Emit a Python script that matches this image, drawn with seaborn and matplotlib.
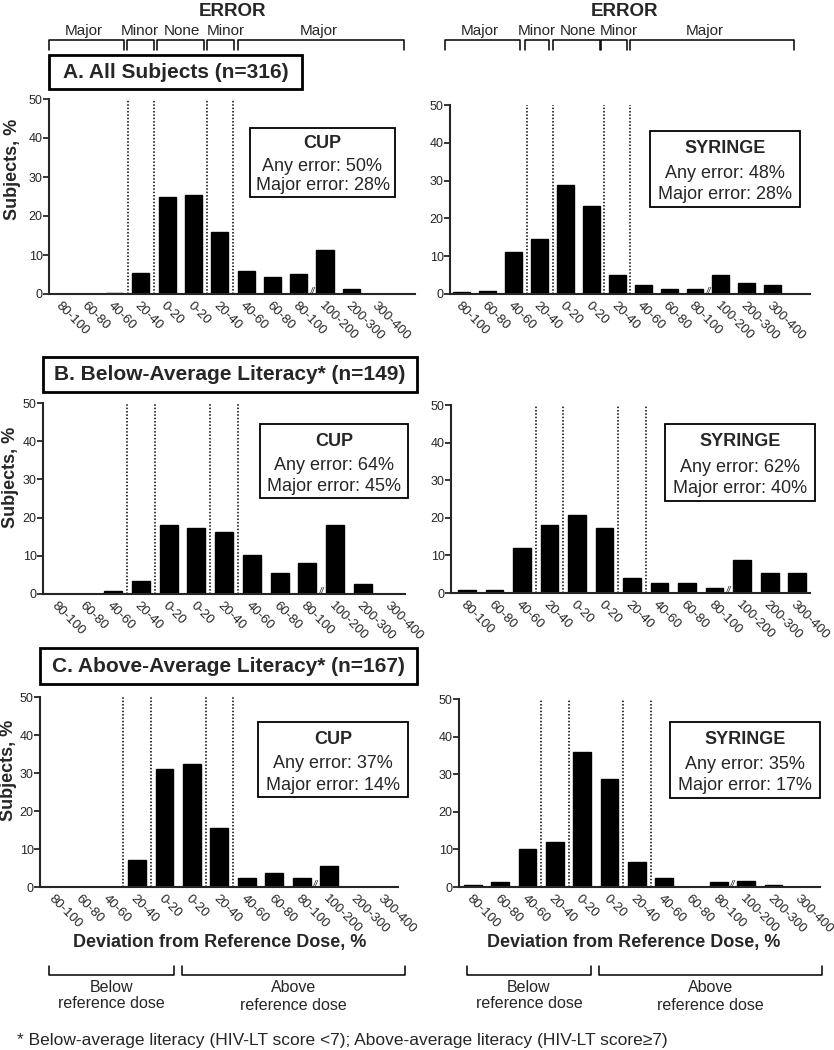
import matplotlib
matplotlib.use("Agg")
import matplotlib.pyplot as plt
import pandas as pd
import seaborn as sns
from matplotlib.lines import Line2D
from matplotlib.patches import Rectangle

# dose deviation bins, below reference dose first then above
bins = ["80-100", "60-80", "40-60", "20-40", "0-20", "0-20", "20-40",
        "40-60", "60-80", "80-100", "100-200", "200-300", "300-400"]

# % of subjects per bin
cup_all = [0, 0, 0.3, 5.4, 25.0, 25.3, 15.8, 6.0, 4.4, 5.1, 11.4, 1.3, 0]
syr_all = [0.6, 0.9, 11.1, 14.6, 28.8, 23.4, 5.1, 2.5, 1.3, 1.3, 5.1, 2.8, 2.5]
cup_low = [0, 0, 0.7, 3.4, 18.1, 17.4, 16.1, 10.1, 5.4, 8.1, 18.1, 2.7, 0]
syr_low = [0.7, 0.7, 12.1, 18.1, 20.8, 17.4, 4.0, 2.7, 2.7, 1.3, 8.7, 5.4, 5.4]
cup_high = [0, 0, 0, 7.2, 31.1, 32.3, 15.6, 2.4, 3.6, 2.4, 5.4, 0, 0]
syr_high = [0.6, 1.2, 10.2, 12.0, 35.9, 28.7, 6.6, 2.4, 0, 1.2, 1.5, 0.6, 0]

devices = ["CUP", "SYRINGE"]
any_error = [[50, 48], [64, 62], [37, 35]]
major_error = [[28, 28], [45, 40], [14, 17]]
panel_titles = ["A. All Subjects (n=316)",
                "B. Below-Average Literacy* (n=149)",
                "C. Above-Average Literacy* (n=167)"]
error_groups = ["Major", "Minor", "None", "Minor", "Major"]
footnote = "* Below-average literacy (HIV-LT score <7); Above-average literacy (HIV-LT score\u22657)"

W, H = 834, 1050


def fx(x):
    return x / W


def fy(y):
    return 1 - y / H


def bracket(fig, x0, x1, y, tip, lw=1.1):
    # horizontal line at y with end ticks going to tip
    fig.add_artist(Line2D([fx(x0), fx(x0), fx(x1), fx(x1)],
                          [fy(tip), fy(y), fy(y), fy(tip)], color="black", lw=lw,
                          transform=fig.transFigure))


def box_fig(fig, x0, y0, x1, y1, lw=1.3):
    fig.add_artist(Rectangle((fx(x0), fy(y1)), fx(x1 - x0), (y1 - y0) / H,
                             fill=False, ec="black", lw=lw, transform=fig.transFigure))


sns.set_style("ticks")
plt.rcParams["font.family"] = ["Liberation Sans", "DejaVu Sans"]

fig = plt.figure(figsize=(W / 100, H / 100), dpi=100)

# axes pixel boxes: x0, x1, ytop(50%), ybottom(0%), xlim
axes_px = [
    [(49, 415, 99, 294, -0.49, 13.42), (450, 810, 105, 294, -0.46, 13.44)],
    [(43, 405, 403, 594, -0.54, 12.53), (451, 810, 405, 593, -0.58, 12.47)],
    [(40, 398, 697, 887, -0.53, 12.5), (459, 820, 699, 887, -0.51, 12.7)],
]
stat_boxes = [
    [(250, 128, 395, 197), (650, 131, 800, 207)],
    [(260, 424, 408, 498), (665, 424, 815, 501)],
    [(258, 722, 408, 797), (670, 722, 820, 798)],
]
data = [[cup_all, syr_all], [cup_low, syr_low], [cup_high, syr_high]]

for r in range(3):
    for c in range(2):
        x0, x1, yt, yb, lo, hi = axes_px[r][c]
        ax = fig.add_axes([fx(x0), fy(yb), fx(x1 - x0), (yb - yt) / H])
        df = pd.DataFrame({"pos": range(len(bins)), "pct": data[r][c]})
        sns.barplot(data=df, x="pos", y="pct", ax=ax, color="black", width=0.65,
                    edgecolor="black", linewidth=1, saturation=1, errorbar=None)
        ax.set_xlim(lo, hi)
        ax.set_ylim(0, 50)
        ax.set_yticks(range(0, 51, 10))
        ax.set_xticks(range(len(bins)))
        ax.set_xticklabels(bins, rotation=-45, ha="left", va="top",
                           rotation_mode="anchor", fontsize=9.5)
        ax.tick_params(axis="x", length=0, pad=4)
        ax.tick_params(axis="y", length=4, width=1.3, pad=0.5, labelsize=9)
        ax.set_xlabel("")
        ax.set_ylabel("")
        for s in ["top", "right"]:
            ax.spines[s].set_visible(False)
        for s in ["left", "bottom"]:
            ax.spines[s].set_linewidth(1.5)
        for xv in [2.5, 3.5, 5.5, 6.5]:
            ax.axvline(xv, color="black", ls=(0, (1, 1.2)), lw=1.1)
        ax.text(9.5, 0.6, "//", ha="center", va="center", fontsize=7, style="italic")

        bx0, by0, bx1, by1 = stat_boxes[r][c]
        box_fig(fig, bx0, by0, bx1, by1)
        cx = (bx0 + bx1) / 2
        bh = by1 - by0
        fig.text(fx(cx), fy(by0 + 0.23 * bh), devices[c], ha="center", va="center",
                 fontsize=13, fontweight="bold")
        fig.text(fx(cx), fy(by0 + 0.56 * bh), f"Any error: {any_error[r][c]}%",
                 ha="center", va="center", fontsize=13)
        fig.text(fx(cx), fy(by0 + 0.84 * bh), f"Major error: {major_error[r][c]}%",
                 ha="center", va="center", fontsize=13)

# y labels
for yc, xc in zip([169, 477, 770], [13, 11, 9]):
    fig.text(fx(xc), fy(yc), "Subjects, %", rotation=90, ha="center", va="center",
             fontsize=13, fontweight="bold")

# panel titles
title_boxes = [(49, 55, 302, 89), (43, 357, 417, 392), (40, 648, 417, 684)]
for t, (tx0, ty0, tx1, ty1) in zip(panel_titles, title_boxes):
    box_fig(fig, tx0, ty0, tx1, ty1, lw=2)
    fig.text(fx((tx0 + tx1) / 2), fy((ty0 + ty1) / 2), t, ha="center", va="center",
             fontsize=15, fontweight="bold")

# ERROR headers and brackets
header_x = [232, 625]
group_x = [[84, 140, 182, 226, 319], [480, 537, 578, 619, 705]]
group_spans = [
    [(49, 124), (127, 154), (157, 204), (207, 234), (238, 404)],
    [(445, 520), (525, 549), (553, 600), (601, 627), (630, 794)],
]
for k in range(2):
    fig.text(fx(header_x[k]), fy(12), "ERROR", ha="center", va="center",
             fontsize=13.5, fontweight="bold")
    for name, gx, (sx0, sx1) in zip(error_groups, group_x[k], group_spans[k]):
        fig.text(fx(gx), fy(31), name, ha="center", va="center", fontsize=11)
        bracket(fig, sx0, sx1, 40, 50)

# bottom axis titles and below/above brackets
dev_x = [220, 634]
below_span = [(49, 174), (467, 591)]
above_span = [(182, 405), (599, 822)]
for k in range(2):
    fig.text(fx(dev_x[k]), fy(943), "Deviation from Reference Dose, %", ha="center",
             va="center", fontsize=13, fontweight="bold")
    bracket(fig, *below_span[k], 975, 966)
    bracket(fig, *above_span[k], 975, 966)
    bxc = sum(below_span[k]) / 2
    axc = sum(above_span[k]) / 2
    fig.text(fx(bxc), fy(987), "Below", ha="center", va="center", fontsize=11.5)
    fig.text(fx(bxc), fy(1004), "reference dose", ha="center", va="center", fontsize=11.5)
    fig.text(fx(axc), fy(988), "Above", ha="center", va="center", fontsize=11.5)
    fig.text(fx(axc), fy(1005), "reference dose", ha="center", va="center", fontsize=11.5)

fig.text(fx(17), fy(1041), footnote, ha="left", va="center", fontsize=12.5)

fig.savefig("out.png", dpi=100)
plt.close(fig)
